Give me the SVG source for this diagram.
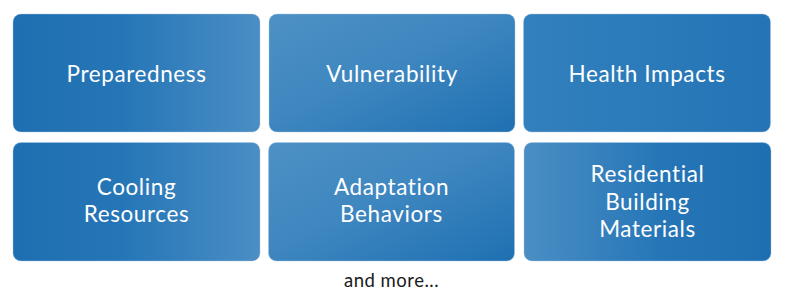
<svg xmlns="http://www.w3.org/2000/svg" width="785" height="305" viewBox="0 0 785 305">
<defs>
<linearGradient id="gH" x1="0" y1="0" x2="1" y2="0">
<stop offset="0" stop-color="#1e6fb1"/>
<stop offset="0.45" stop-color="#2676b7"/>
<stop offset="1" stop-color="#4a8ec4"/>
</linearGradient>
<linearGradient id="gHr" x1="0" y1="0" x2="1" y2="0">
<stop offset="0" stop-color="#4a8ec4"/>
<stop offset="0.55" stop-color="#2676b7"/>
<stop offset="1" stop-color="#1e6fb1"/>
</linearGradient>
<linearGradient id="gD" x1="0" y1="0" x2="1" y2="1">
<stop offset="0" stop-color="#4d91c5"/>
<stop offset="0.45" stop-color="#3f87c0"/>
<stop offset="1" stop-color="#1f70b2"/>
</linearGradient>
<linearGradient id="gF" x1="0" y1="0" x2="1" y2="0">
<stop offset="0" stop-color="#3280bd"/>
<stop offset="1" stop-color="#2474b6"/>
</linearGradient>
</defs>
<style>
.box{stroke:#a9c6e2;stroke-width:0.6;stroke-opacity:0.7}
.t{font-family:Lato,"Open Sans","DejaVu Sans",sans-serif;font-size:22.5px;font-weight:400;letter-spacing:0.6px;fill:#ffffff;text-anchor:middle;font-variant-ligatures:none}
.more{font-family:Lato,"Open Sans","DejaVu Sans",sans-serif;font-size:18.5px;font-weight:400;letter-spacing:0.5px;fill:#1a1a1a;text-anchor:middle;font-variant-ligatures:none}
</style>
<g id="node-preparedness">
<rect class="box" x="13" y="14" width="247" height="118" rx="8" fill="url(#gH)"/>
<text class="t" x="136.5" y="81.5">Preparedness</text>
</g>
<g id="node-vulnerability">
<rect class="box" x="269" y="14" width="246" height="118" rx="8" fill="url(#gD)"/>
<text class="t" x="392" y="81.5">Vulnerability</text>
</g>
<g id="node-health-impacts">
<rect class="box" x="523.5" y="14" width="247" height="118" rx="8" fill="url(#gF)"/>
<text class="t" x="647" y="81.5">Health Impacts</text>
</g>
<g id="node-cooling-resources">
<rect class="box" x="13" y="142.5" width="247" height="118.5" rx="8" fill="url(#gH)"/>
<text class="t" x="136.5" y="195">Cooling</text>
<text class="t" x="136.5" y="222">Resources</text>
</g>
<g id="node-adaptation-behaviors">
<rect class="box" x="268.5" y="142.5" width="246" height="118.5" rx="8" fill="url(#gD)"/>
<text class="t" x="391.5" y="195">Adaptation</text>
<text class="t" x="391.5" y="222">Behaviors</text>
</g>
<g id="node-residential-building-materials">
<rect class="box" x="524" y="142.5" width="247" height="118.5" rx="8" fill="url(#gHr)"/>
<text class="t" x="647.5" y="182">Residential</text>
<text class="t" x="647.5" y="209.5">Building</text>
<text class="t" x="647.5" y="237">Materials</text>
</g>
<g id="connectors"></g>
<text class="more" x="391.5" y="287">and more...</text>
</svg>
